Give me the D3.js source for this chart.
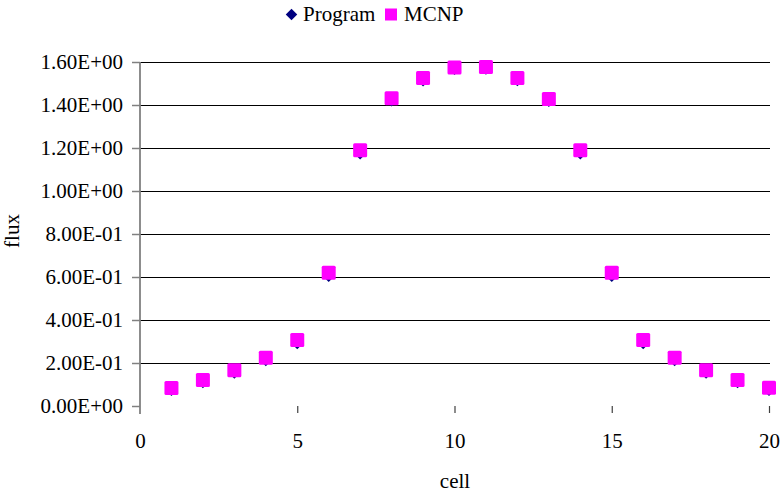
<!DOCTYPE html>
<html>
<head>
<meta charset="utf-8">
<script src="https://cdn.jsdelivr.net/npm/d3@7"></script>
<style>
  body { margin: 0; background: #fff; }
  svg text { font-family: "Liberation Serif", "Times New Roman", serif; }
</style>
</head>
<body>
<div class="inner-content"></div>
<script>
var cells = [1, 2, 3, 4, 5, 6, 7, 8, 9, 10, 11, 12, 13, 14, 15, 16, 17, 18, 19, 20]

var program = [0.072, 0.108, 0.152, 0.210, 0.290, 0.602, 1.172, 1.418, 1.512, 1.565,
               1.566, 1.513, 1.416, 1.172, 0.602, 0.290, 0.210, 0.152, 0.108, 0.072]

var mcnp = [0.084, 0.121, 0.166, 0.225, 0.307, 0.620, 1.190, 1.431, 1.526, 1.575,
            1.577, 1.526, 1.428, 1.190, 0.620, 0.307, 0.225, 0.166, 0.121, 0.085]

var yTicks = [0, 0.2, 0.4, 0.6, 0.8, 1.0, 1.2, 1.4, 1.6]
var yTickLabels = ["0.00E+00", "2.00E-01", "4.00E-01", "6.00E-01", "8.00E-01",
                   "1.00E+00", "1.20E+00", "1.40E+00", "1.60E+00"]
var xTicks = [0, 5, 10, 15, 20]

var seriesNames = ["Program", "MCNP"]

var width = 783, height = 497

var svg = d3.select(".inner-content")
  .append("svg")
    .attr("width", width)
    .attr("height", height)

var x = d3.scaleLinear().domain([0, 20]).range([140, 769])
var y = d3.scaleLinear().domain([0, 1.6]).range([406, 62])

// horizontal gridlines (none at zero)
svg.append("g")
  .selectAll("line")
  .data(yTicks.filter(d => d > 0))
  .enter()
  .append("line")
    .attr("x1", x(0))
    .attr("x2", x(20) + 1)
    .attr("y1", d => Math.round(y(d)) + 0.5)
    .attr("y2", d => Math.round(y(d)) + 0.5)
    .attr("stroke", "#000")
    .attr("stroke-width", 1.2)

// y axis
var yAxis = svg.append("g")
  .attr("transform", "translate(" + x(0) + ",0)")
  .call(d3.axisLeft(y)
    .tickValues(yTicks)
    .tickFormat((d, i) => yTickLabels[i])
    .tickSize(8)
    .tickPadding(9))
yAxis.select(".domain").remove()
yAxis.selectAll(".tick line").attr("stroke", "#808080").attr("stroke-width", 1.5)
yAxis.selectAll(".tick text")
  .attr("font-size", 21)
  .attr("fill", "#000")
  .style("font-family", "'Liberation Serif', serif")

svg.append("line")
  .attr("x1", x(0))
  .attr("x2", x(0))
  .attr("y1", y(1.6))
  .attr("y2", y(0) + 8)
  .attr("stroke", "#808080")
  .attr("stroke-width", 1.8)

// x axis (no baseline, only small tick marks)
var xAxis = svg.append("g")
  .attr("transform", "translate(0," + y(0) + ")")
  .call(d3.axisBottom(x)
    .tickValues(xTicks)
    .tickSize(7)
    .tickPadding(20))
xAxis.select(".domain").remove()
xAxis.selectAll(".tick line")
  .attr("stroke", d => d === 0 ? "none" : "#404040")
  .attr("stroke-width", 1.2)
xAxis.selectAll(".tick text")
  .attr("font-size", 21)
  .attr("fill", "#000")
  .style("font-family", "'Liberation Serif', serif")

// axis titles
svg.append("text")
  .attr("x", 455)
  .attr("y", 488)
  .attr("text-anchor", "middle")
  .attr("font-size", 21)
  .text("cell")

svg.append("text")
  .attr("transform", "translate(19,231) rotate(-90)")
  .attr("text-anchor", "middle")
  .attr("font-size", 21)
  .text("flux")

// series
var diamond = d3.symbol().type(d3.symbolSquare).size(60)

svg.append("g")
  .selectAll("path")
  .data(cells)
  .enter()
  .append("path")
    .attr("d", diamond)
    .attr("transform", (d, i) => "translate(" + x(d) + "," + y(program[i]) + ") rotate(45)")
    .attr("fill", "#000080")

svg.append("g")
  .selectAll("rect")
  .data(cells)
  .enter()
  .append("rect")
    .attr("x", d => x(d) - 7)
    .attr("y", (d, i) => y(mcnp[i]) - 7)
    .attr("width", 14)
    .attr("height", 14)
    .attr("rx", 1.5)
    .attr("fill", "#FF00FF")

// legend
var legend = svg.append("g")

legend.append("path")
  .attr("d", d3.symbol().type(d3.symbolSquare).size(66))
  .attr("transform", "translate(291.5,14.5) rotate(45)")
  .attr("fill", "#000080")

legend.append("text")
  .attr("x", 303)
  .attr("y", 21)
  .attr("font-size", 21)
  .text(seriesNames[0])

legend.append("rect")
  .attr("x", 385)
  .attr("y", 8.5)
  .attr("width", 12)
  .attr("height", 12)
  .attr("fill", "#FF00FF")

legend.append("text")
  .attr("x", 404)
  .attr("y", 21)
  .attr("font-size", 21)
  .text(seriesNames[1])
</script>
</body>
</html>
